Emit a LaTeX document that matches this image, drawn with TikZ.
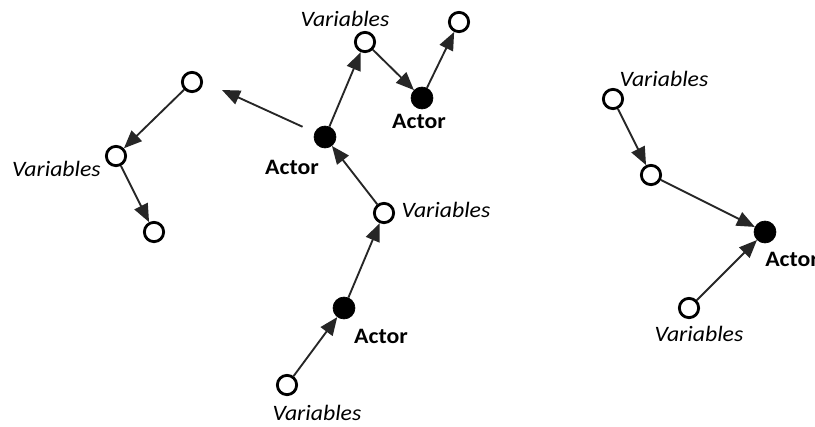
\documentclass[tikz,border=0pt]{standalone}
\usepackage{fontspec}
\setmainfont{Carlito}[FakeStretch=1.08]
\usetikzlibrary{arrows.meta}
\begin{document}
\begin{tikzpicture}[x=0.75pt,y=-0.75pt,
  var/.style={circle,draw=black,line width=2.1pt,fill=white,minimum size=14.5pt,inner sep=0pt},
  act/.style={circle,fill=black,draw=black,line width=0.5pt,minimum size=16.5pt,inner sep=0pt},
  lab/.style={inner sep=0pt},
  varlab/.style={lab,font=\fontsize{16.5}{19}\selectfont\itshape},
  actlab/.style={lab,font=\fontsize{16.5}{19}\selectfont\bfseries},
  link/.style={draw=black!85,line width=1.4pt,-{Triangle[length=13.5pt,width=11pt]}}]
\useasboundingbox (0,0) rectangle (815,426);
% left chain
\node[var] (v1) at (192,82) {};
\node[var] (v2) at (116,156) {};
\node[var] (v3) at (154,232) {};
\coordinate (fr) at (222,90);
% central chain
\node[act] (a1) at (325,137) {};
\node[var] (v4) at (365,42) {};
\node[act] (a2) at (422,98) {};
\node[var] (v5) at (459,22) {};
\node[var] (v6) at (384,213) {};
\node[act] (a3) at (344,308) {};
\node[var] (v7) at (287,385) {};
% right chain
\node[var] (v8) at (613,99) {};
\node[var] (v9) at (651,175) {};
\node[act] (a4) at (765,232) {};
\node[var] (v10) at (689,308) {};
% labels
\node[varlab] (l4) at (345,19) {Variables};
\node[actlab] (l2) at (419,121) {Actor};
\node[varlab,anchor=east] (l1) at (101,169) {Variables};
\node[actlab] (l3) at (292,167) {Actor};
\node[varlab] (l6) at (446,210) {Variables};
\node[actlab] (l7) at (381,336) {Actor};
\node[varlab] (l8) at (317,413) {Variables};
\node[varlab] (l9) at (664,79) {Variables};
\node[actlab,anchor=west] (l10) at (765,259) {Actor};
\node[varlab] (l11) at (699,334) {Variables};
% connectors
\draw[link] (v1) -- (v2);
\draw[link] (v2) -- (v3);
\draw[link,shorten <=10pt] (a1) -- (fr);
\draw[link] (a1) -- (v4);
\draw[link] (v4) -- (a2);
\draw[link] (a2) -- (v5);
\draw[link] (v6) -- (a1);
\draw[link] (a3) -- (v6);
\draw[link] (v7) -- (a3);
\draw[link] (v8) -- (v9);
\draw[link] (v9) -- (a4);
\draw[link] (v10) -- (a4);
\end{tikzpicture}
\end{document}
